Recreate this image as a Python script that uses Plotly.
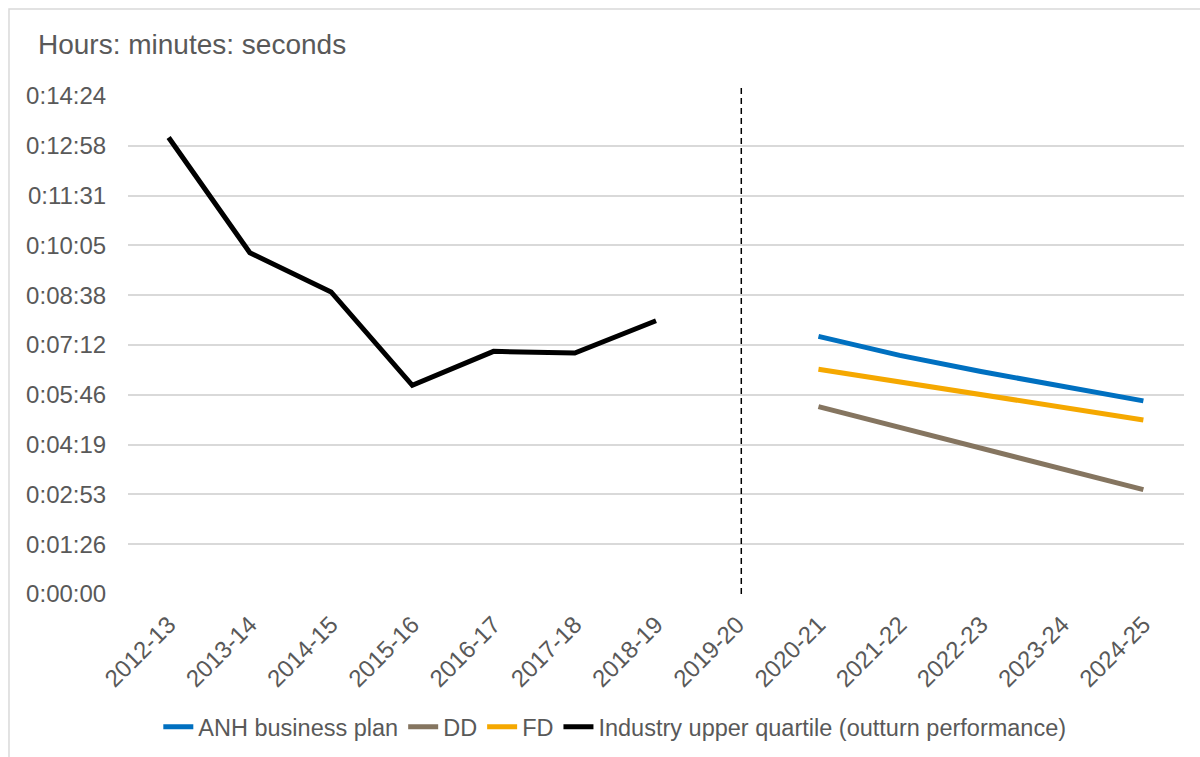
import plotly.graph_objects as go

categories = ["2012-13", "2013-14", "2014-15", "2015-16", "2016-17", "2017-18", "2018-19",
              "2019-20", "2020-21", "2021-22", "2022-23", "2023-24", "2024-25"]

# values in seconds
industry_uq = [792, 592, 524, 362, 421, 418, 474, None, None, None, None, None, None]
anh_bp = [None] * 8 + [447, 414, 386, 360, 335]
dd = [None] * 8 + [325, 289, 253, 217, 181]
fd = [None] * 8 + [390, 368, 346, 324, 302]

ytick_vals = [0, 86.4, 172.8, 259.2, 345.6, 432, 518.4, 604.8, 691.2, 777.6, 864]
ytick_text = ["0:00:00", "0:01:26", "0:02:53", "0:04:19", "0:05:46", "0:07:12",
              "0:08:38", "0:10:05", "0:11:31", "0:12:58", "0:14:24"]

divider_category = "2019-20"

TXT = "#595959"
FONT = "Liberation Sans, Arial, sans-serif"

fig = go.Figure()
series = [
    ("ANH business plan", anh_bp, "#0070C0"),
    ("DD", dd, "#857560"),
    ("FD", fd, "#F5A800"),
    ("Industry upper quartile (outturn performance)", industry_uq, "#000000"),
]
for name, vals, col in series:
    fig.add_trace(go.Scatter(x=categories, y=vals, name=name, mode="lines",
                             line=dict(color=col, width=5), connectgaps=False))

idx = categories.index(divider_category)
fig.add_shape(type="line", xref="x", yref="paper", x0=idx + 0.05, x1=idx + 0.05,
              y0=0, y1=1.02, line=dict(color="#000000", width=1.5, dash="6px,4px"))

# chart border
fig.add_shape(type="rect", xref="paper", yref="paper", x0=-0.1127, x1=1.05,
              y0=-0.5, y1=1.1747, line=dict(color="#D9D9D9", width=1.5),
              fillcolor="rgba(0,0,0,0)", layer="below")

fig.add_annotation(text="Hours: minutes: seconds", xref="paper", yref="paper",
                   x=-0.0871, y=1.104, xanchor="left", yanchor="middle",
                   showarrow=False, font=dict(size=28, color=TXT, family=FONT))

fig.update_layout(
    width=1200, height=757,
    margin=dict(l=128, r=16, t=96, b=163, autoexpand=False),
    paper_bgcolor="white", plot_bgcolor="white",
    font=dict(family=FONT, color=TXT, size=24),
    showlegend=True,
    legend=dict(orientation="h", x=0.461, xanchor="center", y=-0.267, yanchor="middle",
                font=dict(size=23.5, color=TXT), traceorder="normal"),
    xaxis=dict(type="category", categoryorder="array", categoryarray=categories,
               range=[-0.5, len(categories) - 0.5], tickangle=-45,
               showgrid=False, showline=False, zeroline=False, automargin=False,
               ticks="outside", ticklen=6, tickcolor="rgba(0,0,0,0)",
               tickfont=dict(size=24, color=TXT)),
    yaxis=dict(range=[0, 864], tickvals=ytick_vals, ticktext=ytick_text,
               showgrid=True, gridcolor="#D9D9D9", gridwidth=1.5,
               zeroline=False, showline=False, automargin=False,
               ticks="outside", ticklen=16, tickcolor="rgba(0,0,0,0)",
               tickfont=dict(size=24, color=TXT)),
)

fig.write_html("out.html")
